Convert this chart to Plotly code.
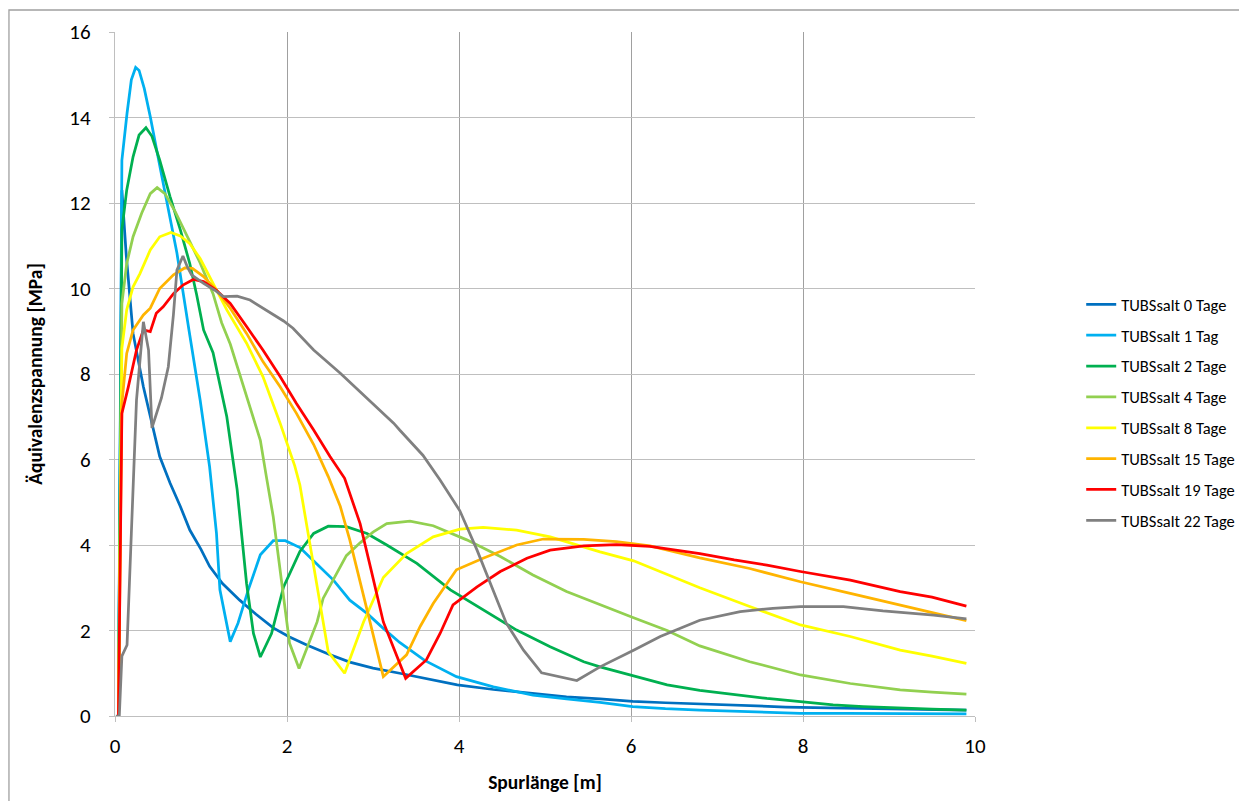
import plotly.graph_objects as go

# ---------------- data ----------------
series_names = ["TUBSsalt 0 Tage", "TUBSsalt 1 Tag", "TUBSsalt 2 Tage", "TUBSsalt 4 Tage",
                "TUBSsalt 8 Tage", "TUBSsalt 15 Tage", "TUBSsalt 19 Tage", "TUBSsalt 22 Tage"]
series_colors = ["#0070C0", "#00B0F0", "#00B050", "#92D050",
                 "#FFFF00", "#FFB400", "#FF0000", "#808080"]

x_0 = [0.04, 0.08, 0.13, 0.21, 0.33, 0.44, 0.52, 0.64, 0.76, 0.87, 1.0, 1.1, 1.25, 1.45, 1.64, 1.84,
       2.03, 2.23, 2.48, 2.73, 3.0, 3.31, 3.65, 3.98, 4.4, 4.86, 5.25, 5.64, 6.02, 6.4, 6.8, 7.3, 7.8,
       8.3, 8.8, 9.3, 9.9]
y_0 = [0, 12.3, 10.8, 8.95, 7.7, 6.76, 6.07, 5.45, 4.9, 4.35, 3.9, 3.5, 3.1, 2.71, 2.38, 2.06,
       1.85, 1.66, 1.45, 1.26, 1.12, 1.0, 0.86, 0.73, 0.62, 0.52, 0.45, 0.4, 0.34, 0.31, 0.28, 0.24, 0.21,
       0.19, 0.17, 0.16, 0.14]

x_1 = [0.04, 0.08, 0.14, 0.19, 0.24, 0.28, 0.34, 0.41, 0.50, 0.60, 0.72, 0.86, 0.99, 1.1, 1.18, 1.22,
       1.28, 1.34, 1.43, 1.55, 1.69, 1.84, 1.98, 2.15, 2.35, 2.54, 2.73, 2.93, 3.12, 3.31, 3.6, 3.97,
       4.4, 4.86, 5.25, 5.64, 6.02, 6.4, 6.8, 7.4, 7.97, 8.5, 9.0, 9.5, 9.9]
y_1 = [0, 13.0, 14.1, 14.88, 15.17, 15.1, 14.68, 14.02, 13.08, 12.07, 10.83, 9.03, 7.39, 5.83, 4.27, 2.95,
       2.3, 1.74, 2.17, 2.95, 3.77, 4.1, 4.1, 3.94, 3.55, 3.18, 2.71, 2.4, 2.05, 1.72, 1.3, 0.92,
       0.68, 0.49, 0.4, 0.32, 0.22, 0.17, 0.14, 0.09, 0.06, 0.06, 0.06, 0.05, 0.05]

x_2 = [0.04, 0.08, 0.136, 0.21, 0.28, 0.36, 0.43, 0.52, 0.64, 0.76, 0.87, 0.95, 1.03, 1.14, 1.3, 1.42,
       1.53, 1.61, 1.69, 1.82, 1.96, 2.15, 2.31, 2.48, 2.69, 2.93, 3.16, 3.51, 3.9, 4.28, 4.67, 5.06,
       5.45, 5.64, 6.03, 6.42, 6.8, 7.2, 7.58, 8.0, 8.35, 8.7, 9.13, 9.5, 9.9]
y_2 = [0, 11.37, 12.3, 13.08, 13.59, 13.76, 13.56, 13.0, 12.15, 11.37, 10.58, 9.85, 9.03, 8.5, 7.0, 5.3,
       3.1, 1.93, 1.38, 1.93, 3.02, 3.85, 4.27, 4.44, 4.43, 4.27, 4.0, 3.57, 2.95, 2.48, 2.01, 1.62,
       1.27, 1.15, 0.94, 0.73, 0.6, 0.5, 0.41, 0.33, 0.26, 0.22, 0.18, 0.16, 0.14]

x_4 = [0.04, 0.08, 0.136, 0.21, 0.31, 0.41, 0.49, 0.58, 0.7, 0.83, 0.99, 1.14, 1.24, 1.34, 1.53, 1.69,
       1.76, 1.84, 1.94, 2.03, 2.14, 2.27, 2.35, 2.42, 2.54, 2.69, 2.85, 3.0, 3.16, 3.31, 3.43, 3.7,
       4.09, 4.48, 4.86, 5.25, 5.64, 6.03, 6.42, 6.8, 7.38, 7.97, 8.55, 9.13, 9.5, 9.9]
y_4 = [0, 9.65, 10.58, 11.21, 11.76, 12.22, 12.36, 12.22, 11.8, 11.25, 10.6, 9.88, 9.2, 8.7, 7.45, 6.45,
       5.6, 4.66, 3.1, 1.7, 1.11, 1.78, 2.2, 2.75, 3.2, 3.75, 4.05, 4.3, 4.5, 4.54, 4.56, 4.45,
       4.12, 3.73, 3.3, 2.91, 2.6, 2.3, 2.0, 1.64, 1.27, 0.96, 0.76, 0.61, 0.56, 0.51]

x_8 = [0.04, 0.08, 0.136, 0.21, 0.29, 0.41, 0.52, 0.65, 0.76, 0.87, 0.99, 1.14, 1.3, 1.53, 1.72, 1.92,
       2.09, 2.15, 2.31, 2.48, 2.67, 2.89, 3.12, 3.39, 3.7, 4.01, 4.28, 4.67, 5.06, 5.45, 5.64, 6.03,
       6.42, 6.8, 7.38, 7.97, 8.55, 9.13, 9.5, 9.9]
y_8 = [0, 8.6, 9.5, 10.04, 10.35, 10.9, 11.21, 11.31, 11.23, 11.05, 10.7, 10.12, 9.5, 8.72, 7.94, 6.85,
       5.85, 5.4, 3.49, 1.5, 1.0, 2.2, 3.24, 3.8, 4.19, 4.37, 4.41, 4.35, 4.19, 3.96, 3.84, 3.63,
       3.32, 3.0, 2.56, 2.13, 1.86, 1.54, 1.4, 1.23]

x_15 = [0.04, 0.08, 0.136, 0.21, 0.33, 0.41, 0.52, 0.68, 0.81, 0.9, 1.03, 1.18, 1.34, 1.53, 1.72, 1.92,
        2.11, 2.31, 2.48, 2.62, 2.73, 2.81, 2.97, 3.12, 3.39, 3.55, 3.7, 3.97, 4.28, 4.67, 4.98, 5.45,
        5.83, 6.22, 6.8, 7.38, 7.97, 8.55, 9.13, 9.5, 9.9]
y_15 = [0, 7.3, 8.48, 9.03, 9.38, 9.54, 10.0, 10.32, 10.48, 10.47, 10.28, 9.96, 9.54, 8.95, 8.29, 7.7,
        7.08, 6.35, 5.6, 4.9, 4.12, 3.49, 2.16, 0.92, 1.43, 2.1, 2.63, 3.42, 3.69, 4.0, 4.14, 4.13,
        4.08, 3.98, 3.7, 3.45, 3.14, 2.87, 2.6, 2.42, 2.23]

x_19 = [0.04, 0.08, 0.155, 0.25, 0.33, 0.41, 0.48, 0.56, 0.68, 0.79, 0.91, 1.03, 1.18, 1.34, 1.53, 1.72,
        1.92, 2.11, 2.31, 2.5, 2.67, 2.85, 2.98, 3.12, 3.38, 3.62, 3.78, 3.93, 4.21, 4.48, 4.79, 5.06,
        5.45, 5.83, 6.22, 6.8, 7.2, 7.58, 7.97, 8.55, 9.13, 9.5, 9.9]
y_19 = [0, 7.08, 7.7, 8.56, 9.03, 8.99, 9.42, 9.57, 9.88, 10.08, 10.21, 10.16, 9.96, 9.65, 9.11, 8.56,
        7.94, 7.31, 6.69, 6.07, 5.56, 4.5, 3.4, 2.2, 0.88, 1.31, 1.93, 2.6, 3.02, 3.38, 3.69, 3.88,
        3.98, 4.01, 3.97, 3.8, 3.65, 3.53, 3.38, 3.18, 2.91, 2.78, 2.57]

x_22 = [0.01, 0.05, 0.08, 0.14, 0.19, 0.25, 0.33, 0.39, 0.43, 0.54, 0.62, 0.68, 0.72, 0.79, 0.84, 0.89,
        1.03, 1.16, 1.26, 1.42, 1.57, 1.76, 1.96, 2.07, 2.31, 2.62, 2.93, 3.24, 3.31, 3.58, 3.78, 4.01,
        4.21, 4.4, 4.55, 4.75, 4.96, 5.37, 5.64, 6.03, 6.34, 6.8, 7.27, 7.65, 7.97, 8.47, 8.93, 9.52, 9.9]
y_22 = [0, 0, 1.4, 1.66, 4.27, 7.39, 9.22, 8.56, 6.74, 7.44, 8.17, 9.4, 10.43, 10.76, 10.51, 10.32,
        10.12, 9.96, 9.81, 9.82, 9.73, 9.5, 9.24, 9.07, 8.56, 8.02, 7.43, 6.85, 6.69, 6.1, 5.52, 4.8,
        3.88, 2.95, 2.17, 1.54, 1.01, 0.83, 1.15, 1.54, 1.86, 2.24, 2.44, 2.52, 2.56, 2.56, 2.46, 2.36, 2.27]

x_values = [x_0, x_1, x_2, x_4, x_8, x_15, x_19, x_22]
y_values = [y_0, y_1, y_2, y_4, y_8, y_15, y_19, y_22]

x_ticks = [0, 2, 4, 6, 8, 10]
y_ticks = [0, 2, 4, 6, 8, 10, 12, 14, 16]
x_title = "Spurlänge [m]"
y_title = "Äquivalenzspannung [MPa]"

# ---------------- figure ----------------
FONT = "Carlito, Lato, 'Open Sans', sans-serif"
fig = go.Figure()
for i, (name, col) in enumerate(zip(series_names, series_colors)):
    fig.add_trace(go.Scatter(
        x=x_values[i], y=y_values[i], mode="lines", name=name,
        line=dict(color=col, width=2.75), legendgroup=f"g{i}",
    ))

# outer chart border (Excel style)
fig.add_shape(type="rect", xref="paper", yref="paper",
              x0=-0.1233, x1=1.5, y0=-0.3, y1=1.0322,
              line=dict(color="#A0A0A0", width=1.3), fillcolor="rgba(0,0,0,0)", layer="below")

fig.update_layout(
    width=1231, height=793,
    margin=dict(l=107, r=264, t=24, b=85, autoexpand=False),
    paper_bgcolor="white", plot_bgcolor="white",
    font=dict(family=FONT, color="#000000"),
    showlegend=True,
    legend=dict(x=1.1235, xanchor="left", y=0.627, yanchor="top",
                font=dict(size=16.5, family=FONT, color="#000000"),
                tracegroupgap=6.4, bgcolor="rgba(0,0,0,0)", itemwidth=30),
    xaxis=dict(range=[0, 10], tickvals=x_ticks, ticktext=[str(v) for v in x_ticks],
               showgrid=True, gridcolor="#A0A0A0", gridwidth=1,
               showline=True, linecolor="#BFBFBF", linewidth=1.3,
               ticks="outside", ticklen=5, tickcolor="#BFBFBF", tickwidth=1.3,
               ticklabelstandoff=6, automargin=False,
               zeroline=False, tickfont=dict(size=21, family=FONT, color="#000000"),
               title=dict(text="<b>" + x_title + "</b>", standoff=17,
                          font=dict(size=19.5, family=FONT, color="#000000"))),
    yaxis=dict(range=[0, 16], tickvals=y_ticks, ticktext=[str(v) for v in y_ticks],
               showgrid=True, gridcolor="#BFBFBF", gridwidth=1.3,
               showline=True, linecolor="#BFBFBF", linewidth=1.3,
               ticks="outside", ticklen=5, tickcolor="#BFBFBF", tickwidth=1.3,
               ticklabelstandoff=14, automargin=False,
               zeroline=False, tickfont=dict(size=21, family=FONT, color="#000000"),
               title=dict(text="<b>" + y_title + "</b>", standoff=21,
                          font=dict(size=19.5, family=FONT, color="#000000"))),
)

fig.write_html("out.html")
